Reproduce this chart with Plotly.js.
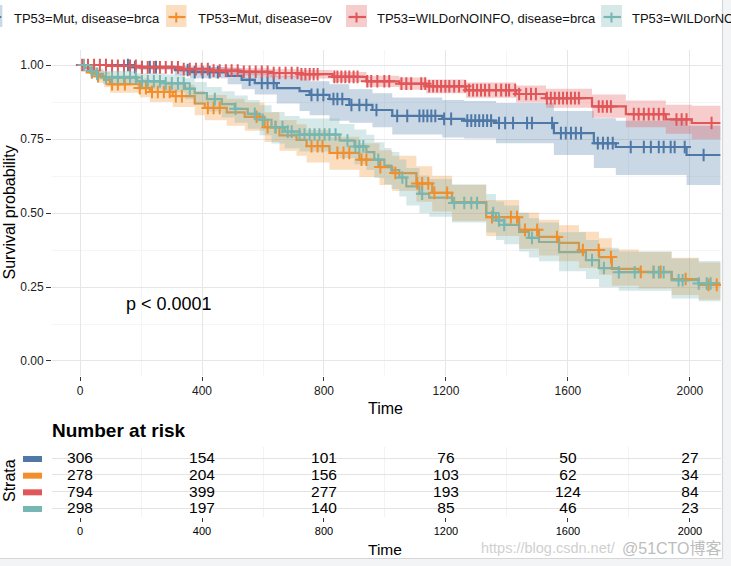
<!DOCTYPE html>
<html><head><meta charset="utf-8">
<script src="https://cdn.plot.ly/plotly-3.0.1.min.js"></script>
<style>html,body{margin:0;padding:0;background:#fff;}#chart{width:731px;height:566px;}</style>
</head><body><div id="chart"></div>
<script>
// ---------------- DATA ----------------
const strata = ["TP53=Mut, disease=brca", "TP53=Mut, disease=ov", "TP53=WILDorNOINFO, disease=brca", "TP53=WILDorNOINFO, disease=ov"];
const followUpEnd = 2100;

// TP53=Mut, disease=brca
const blueT  = [0,164,311,360,484,530,573,645,720,753,818,883,959,1024,1188,1260,1364,1554,1685,1757,1989];
const blueS  = [1,0.993,0.983,0.976,0.963,0.950,0.939,0.922,0.912,0.899,0.885,0.865,0.848,0.828,0.818,0.812,0.804,0.770,0.736,0.723,0.696];
const blueLo = [1,0.985,0.965,0.955,0.935,0.918,0.90,0.87,0.845,0.83,0.812,0.805,0.79,0.765,0.755,0.752,0.736,0.696,0.652,0.628,0.595];
const blueHi = [1,1,0.997,0.993,0.99,0.982,0.975,0.962,0.955,0.945,0.935,0.918,0.905,0.89,0.882,0.878,0.872,0.845,0.82,0.812,0.795];
const blueCens = [157,180,203,229,249,353,376,402,425,452,556,596,615,635,759,779,798,831,844,860,890,916,939,972,1040,1073,1113,1126,1139,1152,1165,1194,1217,1270,1283,1296,1309,1322,1335,1348,1374,1394,1420,1466,1482,1548,1577,1593,1610,1626,1643,1698,1715,1731,1747,1806,1849,1872,1898,1914,1937,1950,1983,2045];

// TP53=Mut, disease=ov
const orT  = [0,16,33,56,79,98,196,229,304,376,409,481,540,605,654,710,743,818,916,982,1024,1103,1155,1220,1332,1440,1505,1571,1636,1702,1744,1832,1940,2029];
const orS  = [1,0.99,0.975,0.962,0.95,0.935,0.922,0.909,0.895,0.87,0.855,0.84,0.825,0.79,0.762,0.747,0.726,0.703,0.68,0.655,0.635,0.60,0.568,0.537,0.486,0.443,0.419,0.399,0.375,0.351,0.311,0.301,0.277,0.257];
const orLo = [1,0.978,0.957,0.94,0.925,0.906,0.891,0.875,0.858,0.83,0.813,0.795,0.778,0.74,0.71,0.693,0.671,0.646,0.622,0.595,0.574,0.538,0.505,0.473,0.422,0.379,0.356,0.337,0.314,0.291,0.254,0.245,0.223,0.207];
const orHi = [1,1,0.992,0.984,0.976,0.965,0.955,0.944,0.933,0.912,0.899,0.886,0.873,0.84,0.814,0.80,0.78,0.758,0.736,0.712,0.693,0.658,0.626,0.595,0.544,0.501,0.477,0.459,0.437,0.415,0.377,0.369,0.349,0.333];
const orCens = [39,59,105,124,147,196,216,236,255,275,294,314,334,419,438,458,579,615,641,759,779,795,844,864,883,923,939,985,1034,1106,1122,1142,1162,1204,1351,1413,1433,1459,1499,1564,1649,1701,1741,1839,1881,1904,1986,2061,2088];

// TP53=WILDorNOINFO, disease=brca
const redT  = [0,100,196,327,425,523,622,720,828,939,1047,1135,1266,1430,1528,1679,1790,1921,2006];
const redS  = [1,0.997,0.992,0.986,0.981,0.977,0.973,0.969,0.96,0.945,0.937,0.928,0.915,0.902,0.888,0.86,0.834,0.816,0.804];
const redLo = [1,0.992,0.985,0.977,0.97,0.965,0.959,0.954,0.943,0.926,0.916,0.905,0.889,0.873,0.856,0.822,0.79,0.768,0.75];
const redHi = [1,1,0.999,0.995,0.992,0.989,0.986,0.983,0.976,0.964,0.958,0.951,0.941,0.931,0.92,0.9,0.88,0.866,0.862];
const redCens = [7,26,46,65,85,105,124,144,164,183,203,222,242,262,281,301,321,340,360,380,399,419,438,458,478,497,517,537,556,576,596,615,635,654,674,694,713,726,739,753,766,779,834,844,857,870,883,897,910,942,955,975,998,1014,1054,1070,1086,1119,1132,1145,1158,1171,1184,1198,1211,1227,1243,1263,1276,1289,1302,1315,1328,1342,1364,1381,1397,1407,1427,1440,1463,1479,1495,1531,1544,1557,1571,1584,1597,1610,1623,1636,1701,1714,1728,1741,1816,1832,1849,1865,1881,1898,1914,1956,1973,1989,2071];

// TP53=WILDorNOINFO, disease=ov
const teT  = [0,16,33,52,75,187,278,344,376,416,465,507,550,589,628,671,720,851,900,939,965,998,1021,1047,1070,1113,1145,1220,1332,1364,1391,1440,1472,1505,1571,1659,1702,1767,1940,2029];
const teS  = [1,0.99,0.98,0.97,0.958,0.945,0.938,0.92,0.905,0.885,0.868,0.852,0.835,0.815,0.79,0.775,0.765,0.745,0.725,0.706,0.68,0.66,0.645,0.62,0.59,0.565,0.552,0.534,0.50,0.475,0.46,0.436,0.416,0.402,0.368,0.341,0.314,0.30,0.273,0.262];
const teLo = [1,0.979,0.964,0.95,0.934,0.917,0.907,0.884,0.866,0.843,0.823,0.805,0.785,0.763,0.735,0.719,0.708,0.686,0.665,0.645,0.618,0.597,0.581,0.556,0.525,0.50,0.487,0.468,0.434,0.409,0.394,0.37,0.35,0.337,0.303,0.277,0.25,0.237,0.211,0.202];
const teHi = [1,1,0.995,0.988,0.98,0.972,0.968,0.955,0.943,0.926,0.911,0.897,0.882,0.864,0.841,0.828,0.819,0.801,0.782,0.764,0.739,0.72,0.706,0.681,0.652,0.627,0.615,0.597,0.564,0.539,0.525,0.501,0.482,0.468,0.435,0.409,0.383,0.37,0.346,0.338];
const teCens = [13,39,56,85,105,124,144,164,183,203,222,242,262,281,301,321,340,360,442,510,573,599,641,664,681,694,720,736,753,769,785,802,818,838,877,903,916,929,978,1057,1122,1227,1260,1283,1302,1355,1374,1391,1482,1679,1718,1767,1819,1881,1898,1914,1963,1976,2029,2055,2068];

// Number at risk
const riskTimes = [0,400,800,1200,1600,2000];
const riskBlue  = [306,154,101,76,50,27];
const riskOr    = [278,204,156,103,62,34];
const riskRed   = [794,399,277,193,124,84];
const riskTe    = [298,197,140,85,46,23];

const pText = "p < 0.0001";

// ---------------- STYLE ----------------
const colors = ["#4E79A7","#F28E2B","#E15759","#76B7B2"];
const bands  = ["rgba(78,121,167,0.3)","rgba(242,142,43,0.3)","rgba(225,87,89,0.3)","rgba(118,183,178,0.3)"];
const FONT = "Arial, 'Liberation Sans', sans-serif";
const W = 731, H = 566;
const px = v => v / W;           // horizontal pixel -> paper
const py = v => 1 - v / H;       // vertical pixel -> paper

const groups = [
  {T: blueT, S: blueS, Lo: blueLo, Hi: blueHi, C: blueCens, risk: riskBlue},
  {T: orT,   S: orS,   Lo: orLo,   Hi: orHi,   C: orCens,   risk: riskOr},
  {T: redT,  S: redS,  Lo: redLo,  Hi: redHi,  C: redCens,  risk: riskRed},
  {T: teT,   S: teS,   Lo: teLo,   Hi: teHi,   C: teCens,   risk: riskTe}
];

function stepAt(T, S, t) {
  let v = S[0];
  for (let i = 0; i < T.length; i++) { if (T[i] <= t) v = S[i]; else break; }
  return v;
}
const ext = (T) => T.concat([followUpEnd]);
const extV = (V) => V.concat([V[V.length - 1]]);

const traces = [];
// survival step lines
groups.forEach((g, i) => {
  traces.push({x: ext(g.T), y: extV(g.S), mode: 'lines', line: {shape: 'hv', color: colors[i], width: 2.2},
    name: strata[i], showlegend: false, hoverinfo: 'skip', xaxis: 'x', yaxis: 'y'});
});
// confidence ribbons (drawn over the lines, as in the original)
groups.forEach((g, i) => {
  traces.push({x: ext(g.T), y: extV(g.Lo), mode: 'lines', line: {shape: 'hv', width: 0, color: 'rgba(0,0,0,0)'},
    showlegend: false, hoverinfo: 'skip', xaxis: 'x', yaxis: 'y'});
  traces.push({x: ext(g.T), y: extV(g.Hi), mode: 'lines', line: {shape: 'hv', width: 0, color: 'rgba(0,0,0,0)'},
    fill: 'tonexty', fillcolor: bands[i], showlegend: false, hoverinfo: 'skip', xaxis: 'x', yaxis: 'y'});
});
// censoring marks
groups.forEach((g, i) => {
  traces.push({x: g.C, y: g.C.map(t => stepAt(g.T, g.S, t)), mode: 'markers',
    marker: {symbol: 'cross-thin', size: 9, color: colors[i], line: {color: colors[i], width: 2}},
    showlegend: false, hoverinfo: 'skip', xaxis: 'x', yaxis: 'y'});
});
// risk table
const rowPos = [4, 3, 2, 1];
groups.forEach((g, i) => {
  traces.push({x: riskTimes, y: riskTimes.map(() => rowPos[i] - 0.08), text: g.risk.map(String), mode: 'text',
    textposition: 'middle center', textfont: {family: FONT, size: 15.5, color: '#000'},
    showlegend: false, hoverinfo: 'skip', xaxis: 'x2', yaxis: 'y2'});
});

const xr = [-92, 2102];
const shapes = [];
const annotations = [];

// table colour keys
groups.forEach((g, i) => {
  shapes.push({type: 'rect', xref: 'paper', yref: 'y2', x0: px(23), x1: px(42), y0: rowPos[i] - 0.24, y1: rowPos[i] + 0.12,
    fillcolor: colors[i], line: {width: 0}});
});

// legend (top, partially cut off on the left as in the original)
const legIcon = [[-18, 2.3], [166, 186.5], [346, 367], [601, 622]];
const legText = [11.7, 196, 375, 630];
strata.forEach((s, i) => {
  const [a, b] = legIcon[i];
  shapes.push({type: 'rect', xref: 'paper', yref: 'paper', x0: px(a), x1: px(b), y0: py(27), y1: py(5),
    fillcolor: bands[i], line: {width: 0}});
  shapes.push({type: 'line', xref: 'paper', yref: 'paper', x0: px(a + 2.5), x1: px(b - 1), y0: py(17), y1: py(17),
    line: {color: colors[i], width: 2.2}});
  shapes.push({type: 'line', xref: 'paper', yref: 'paper', x0: px((a + b) / 2), x1: px((a + b) / 2), y0: py(12.5), y1: py(22.5),
    line: {color: colors[i], width: 2}});
  annotations.push({text: s, xref: 'paper', yref: 'paper', x: px(legText[i]), y: py(18), xanchor: 'left', yanchor: 'middle',
    showarrow: false, font: {family: FONT, size: 13, color: '#111'}});
});

// screenshot frame at right / bottom
shapes.push({type: 'rect', xref: 'paper', yref: 'paper', x0: px(723), x1: 1, y0: 0, y1: 1, fillcolor: '#F3F4F6', line: {width: 0}, layer: 'above'});
shapes.push({type: 'rect', xref: 'paper', yref: 'paper', x0: 0, x1: 1, y0: 0, y1: py(559), fillcolor: '#F3F4F6', line: {width: 0}, layer: 'above'});
shapes.push({type: 'line', xref: 'paper', yref: 'paper', x0: px(722.5), x1: px(722.5), y0: py(558.5), y1: 1, line: {color: '#D4D6D9', width: 1.2}, layer: 'above'});
shapes.push({type: 'line', xref: 'paper', yref: 'paper', x0: 0, x1: px(722.5), y0: py(558.5), y1: py(558.5), line: {color: '#D4D6D9', width: 1.2}, layer: 'above'});

// titles & text
annotations.push({text: 'Survival probability', xref: 'paper', yref: 'paper', x: px(8.5), y: py(213), textangle: -90,
  showarrow: false, xanchor: 'center', yanchor: 'middle', font: {family: FONT, size: 16, color: '#000'}});
annotations.push({text: 'Time', xref: 'paper', yref: 'paper', x: px(385), y: py(408), showarrow: false,
  xanchor: 'center', yanchor: 'middle', font: {family: FONT, size: 16, color: '#000'}});
annotations.push({text: pText, xref: 'x', yref: 'y', x: 144, y: 0.193, showarrow: false, xanchor: 'left', yanchor: 'middle',
  font: {family: FONT, size: 18, color: '#000'}});
annotations.push({text: '<b>Number at risk</b>', xref: 'paper', yref: 'paper', x: px(50), y: py(430), showarrow: false,
  xanchor: 'left', yanchor: 'middle', font: {family: FONT, size: 19, color: '#000'}});
annotations.push({text: 'Strata', xref: 'paper', yref: 'paper', x: px(9), y: py(481), textangle: -90,
  showarrow: false, xanchor: 'center', yanchor: 'middle', font: {family: FONT, size: 16, color: '#000'}});
annotations.push({text: 'Time', xref: 'paper', yref: 'paper', x: px(385), y: py(549), showarrow: false,
  xanchor: 'center', yanchor: 'middle', font: {family: FONT, size: 15.5, color: '#000'}});
annotations.push({text: 'https://blog.csdn.net/', xref: 'paper', yref: 'paper', x: px(479), y: py(548), showarrow: false,
  xanchor: 'left', yanchor: 'middle', font: {family: FONT, size: 14.5, color: '#D0D0D0'}});
annotations.push({text: '@51CTO博客', xref: 'paper', yref: 'paper', x: px(620), y: py(548), showarrow: false,
  xanchor: 'left', yanchor: 'middle', font: {family: "Arial, 'Noto Sans CJK SC', sans-serif", size: 16, color: '#BDBDBD'}});

const tickFont = {family: FONT, size: 12, color: '#1a1a1a'};
const layout = {
  width: W, height: H,
  margin: {l: 0, r: 0, t: 0, b: 0},
  paper_bgcolor: '#ffffff', plot_bgcolor: '#ffffff',
  font: {family: FONT},
  showlegend: false,
  xaxis: {domain: [px(52), px(721)], range: xr, anchor: 'y', tickmode: 'linear', tick0: 0, dtick: 400,
    ticks: 'outside', ticklen: 4, tickcolor: '#333', tickwidth: 1, tickfont: tickFont,
    showgrid: true, gridcolor: '#E6E6E6', gridwidth: 1, zeroline: false, showline: false,
    minor: {tick0: 200, dtick: 400, showgrid: true, gridcolor: '#F5F5F5', gridwidth: 1, ticks: ''}},
  yaxis: {domain: [py(376), py(50)], range: [-0.0507, 1.0507], anchor: 'x', tickmode: 'linear', tick0: 0, dtick: 0.25,
    tickformat: '.2f', ticks: 'outside', ticklen: 5, tickcolor: '#333', tickwidth: 1, tickfont: tickFont,
    showgrid: true, gridcolor: '#E6E6E6', gridwidth: 1, zeroline: false, showline: false,
    minor: {tick0: 0.125, dtick: 0.25, showgrid: true, gridcolor: '#F5F5F5', gridwidth: 1, ticks: ''}},
  xaxis2: {domain: [px(52), px(721)], range: xr, anchor: 'y2', tickmode: 'linear', tick0: 0, dtick: 400,
    ticks: 'outside', ticklen: 4, tickcolor: '#333', tickwidth: 1, tickfont: {family: FONT, size: 11, color: '#000'},
    showgrid: false, zeroline: false, showline: false,
    minor: {tick0: 200, dtick: 400, showgrid: true, gridcolor: '#F3F3F3', gridwidth: 1, ticks: ''}},
  yaxis2: {domain: [py(517), py(447)], range: [0.46, 4.66], anchor: 'x2', tickvals: [1, 2, 3, 4],
    showticklabels: false, ticks: '', showgrid: true, gridcolor: '#E3E3E3', gridwidth: 1, zeroline: false, showline: false},
  shapes: shapes,
  annotations: annotations
};

Plotly.newPlot('chart', traces, layout, {displayModeBar: false, staticPlot: true});
</script>
</body></html>
